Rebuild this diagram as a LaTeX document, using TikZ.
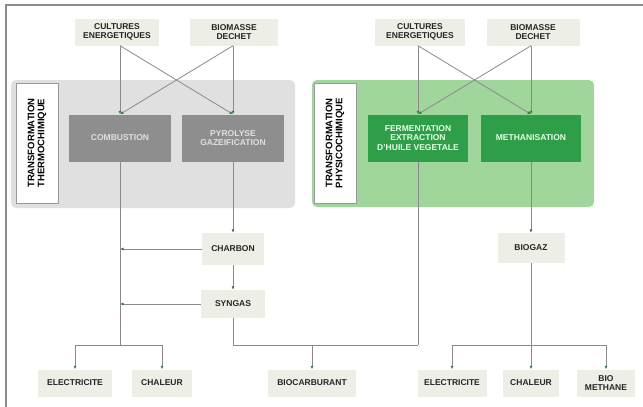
\documentclass[tikz,border=0pt]{standalone}
\usepackage{fontspec}
\setmainfont{Liberation Sans}
\usetikzlibrary{arrows.meta}

\definecolor{beige}{HTML}{EDEEE5}
\definecolor{panelgray}{HTML}{E0E0E0}
\definecolor{boxgray}{HTML}{8E8E8E}
\definecolor{panelgreen}{HTML}{A0D59C}
\definecolor{boxgreen}{HTML}{2E9E48}
\definecolor{linegray}{HTML}{8A8A8A}
\definecolor{tipgreen}{HTML}{2E7D3A}

\tikzset{
  lbl/.style={font=\fontsize{8.5}{9.5}\selectfont\bfseries, align=center, inner sep=1pt},
  source/.style={lbl, fill=beige, text=black!85, minimum height=27pt},
  procgray/.style={lbl, fill=boxgray, text=black!12, minimum width=102pt, minimum height=47pt},
  procgreen/.style={lbl, fill=boxgreen, text=white!90!green, minimum width=100pt, minimum height=47pt},
  sidelabel/.style={lbl, font=\fontsize{9.5}{10}\selectfont\bfseries, rotate=90, draw=black!40,
    fill=white, minimum width=120pt, minimum height=42pt},
  link/.style={draw=linegray, line width=0.8pt},
  arr/.style={link, -{Latex[length=3.5pt, width=3pt, color=tipgreen]}}
}

\begin{document}
\begin{tikzpicture}[x=1pt, y=-1pt]
  \def\Xc{120} % combustion
  \def\Xp{233} % pyrolyse
  \def\Xf{418} % fermentation
  \def\Xm{531} % methanisation
  \def\Ysrc{32}
  \def\Yproc{138}
  \def\Ybus{345} % bus lines
  \def\Yout{383} % products

  \useasboundingbox (0,0) rectangle (643,407);
  \fill[white] (0,0) rectangle (643,407);
  % frame
  \draw[black!45, line width=1.5pt] (6,407) -- (6,5) -- (643,5);

  % panels
  \fill[panelgray, rounded corners=5pt] (11,80) rectangle (295,208);
  \fill[panelgreen, rounded corners=5pt] (312,80) rectangle (594,207);
  \node[sidelabel] (thermo) at (37,143) {TRANSFORMATION\\THERMOCHIMIQUE};
  \node[sidelabel] (physico) at (335,143) {TRANSFORMATION\\PHYSICOCHIMIQUE};

  % sources
  \node[source, minimum width=84pt] (culL) at (117,\Ysrc) {CULTURES\\ENERGETIQUES};
  \node[source, minimum width=88pt] (bioL) at (234,\Ysrc) {BIOMASSE\\DECHET};
  \node[source, minimum width=90pt] (culR) at (420,\Ysrc) {CULTURES\\ENERGETIQUES};
  \node[source, minimum width=93pt] (bioR) at (533,\Ysrc) {BIOMASSE\\DECHET};

  % processes
  \node[procgray] (comb) at (\Xc,\Yproc) {COMBUSTION};
  \node[procgray] (pyro) at (\Xp,\Yproc) {PYROLYSE\\GAZEIFICATION};
  \node[procgreen] (ferm) at (\Xf,\Yproc) {FERMENTATION\\EXTRACTION\\D'HUILE VEGETALE};
  \node[procgreen] (meth) at (\Xm,\Yproc) {METHANISATION};

  % intermediates
  \node[source, minimum width=62pt, minimum height=32pt] (charbon) at (\Xp,249) {CHARBON};
  \node[source, minimum width=64pt, minimum height=28pt] (syngas) at (\Xp,304) {SYNGAS};
  \node[source, minimum width=67pt, minimum height=30pt] (biogaz) at (\Xm,248) {BIOGAZ};

  % products
  \node[source, minimum width=74pt] (elecL) at (75,\Yout) {ELECTRICITE};
  \node[source, minimum width=60pt] (chalL) at (162,\Yout) {CHALEUR};
  \node[source, minimum width=88pt] (biocarb) at (312,\Yout) {BIOCARBURANT};
  \node[source, minimum width=69pt] (elecR) at (452,\Yout) {ELECTRICITE};
  \node[source, minimum width=56pt] (chalR) at (\Xm,\Yout) {CHALEUR};
  \node[source, minimum width=58pt] (biometh) at (606,\Yout) {BIO\\METHANE};

  % sources to processes
  \foreach \s/\a/\b in {culL/comb/pyro, bioL/pyro/comb, culR/ferm/meth, bioR/meth/ferm} {
    \draw[arr] (\s.south -| \a.north) -- (\a.north);
    \draw[arr] (\s.south -| \a.north) -- (\b.north);
  }

  % thermochemical branch
  \coordinate (busL) at (\Xc,\Ybus);
  \draw[link] (comb.south) -- (busL);
  \draw[arr] (pyro.south) -- (charbon.north);
  \draw[arr] (charbon.south) -- (syngas.north);
  \draw[arr] (charbon.west) -- (charbon.west -| busL);
  \draw[arr] (syngas.west) -- (syngas.west -| busL);
  \draw[arr] (busL) -| (elecL.north);
  \draw[arr] (busL) -| (chalL.north);

  % biofuel
  \coordinate (busF) at (\Xf,\Ybus);
  \draw[link] (ferm.south) -- (busF);
  \draw[link] (syngas.south) |- (busF);
  \draw[arr] (biocarb.north |- busF) -- (biocarb.north);

  % biogas branch
  \coordinate (busR) at (\Xm,\Ybus);
  \draw[arr] (meth.south) -- (biogaz.north);
  \draw[arr] (biogaz.south) -- (chalR.north);
  \draw[arr] (busR) -| (elecR.north);
  \draw[arr] (busR) -| (biometh.north);
\end{tikzpicture}
\end{document}
